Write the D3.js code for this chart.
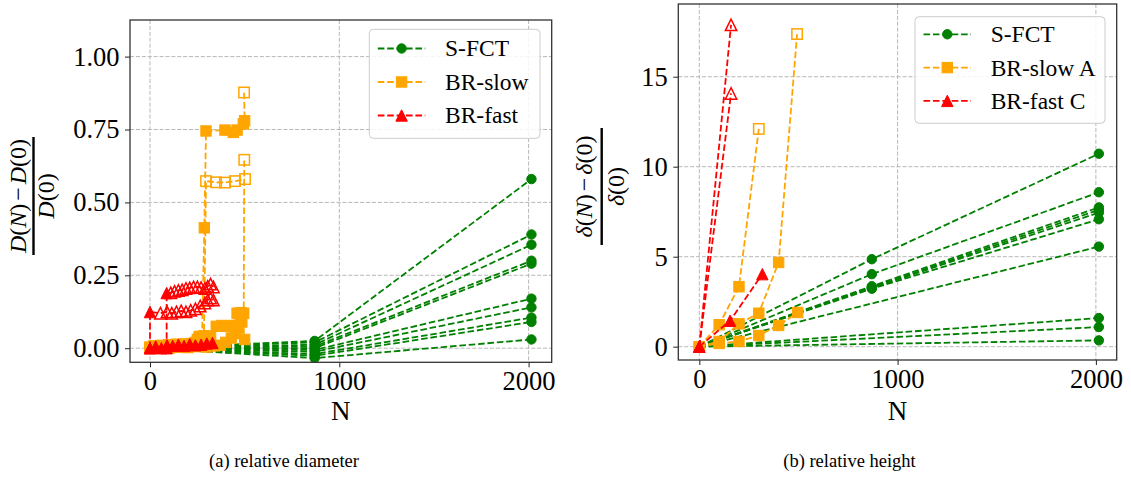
<!DOCTYPE html>
<html><head><meta charset="utf-8">
<script src="https://cdn.jsdelivr.net/npm/d3@7"></script>
<style>html,body{margin:0;padding:0;background:#fff;} svg{display:block;font-family:"Liberation Serif","Times New Roman",serif;}</style>
</head><body>
<svg id="c" width="1131" height="477"></svg>
<script>
// ---------------- data ----------------
const xTicks = [0, 1000, 2000];
const diamYTicks = [0, 0.25, 0.5, 0.75, 1.0];
const heightYTicks = [0, 5, 10, 15];
const legendDiam = ["S-FCT", "BR-slow", "BR-fast"];
const legendHeight = ["S-FCT", "BR-slow A", "BR-fast C"];
const captionDiam = "(a) relative diameter";
const captionHeight = "(b) relative height";

// S-FCT: N values shared by all runs; null = no sample
const sfctN = [0, 870, 2015];
const diamSFCT = [
  [0, 0.025, 0.58], [0, 0.02, 0.39], [0, 0.012, 0.355], [0, 0.006, 0.30], [0, 0.0, 0.29],
  [0, -0.006, 0.17], [0, -0.012, 0.14], [0, -0.02, 0.105], [0, -0.026, 0.09], [0, -0.034, 0.03]
];
const heightSFCT = [
  [0, 4.86, 10.72], [0, 4.03, 8.58], [0, 3.36, 7.74], [0, 3.30, 7.60], [0, 3.26, 7.45],
  [0, 3.22, 7.08], [0, null, 5.56], [0, null, 1.59], [0, null, 1.09], [0, null, 0.35]
];

// BR runs: [N, value]; markers from index openFrom on are hollow
const diamSlowRuns = [
  [[0,0.0],[20,0.008],[40,0.004],[60,0.01],[80,0.006],[100,0.012],[120,0.008],[140,0.014],[160,0.01],[180,0.015],[200,0.012],[220,0.016],[240,0.02],[260,0.035],[275,0.04],[287,0.413],[296,0.745],[396,0.748],[440,0.74],[460,0.748],[493,0.769],[500,0.78],[497,0.877]],
  [[0,0.004],[25,0.0],[50,0.006],[75,0.002],[100,0.008],[125,0.004],[150,0.01],[175,0.006],[200,0.012],[225,0.008],[250,0.03],[270,0.04],[285,0.042],[296,0.573],[349,0.569],[396,0.568],[449,0.573],[502,0.58]],
  [[0,0.0],[30,0.003],[60,0.0],[90,0.006],[120,0.003],[150,0.008],[180,0.004],[210,0.01],[240,0.006],[260,0.04],[290,0.042],[320,0.04],[350,0.075],[380,0.078],[410,0.075],[440,0.078],[460,0.12],[480,0.122],[495,0.12],[498,0.646]],
  [[0,0.0],[50,0.002],[100,0.0],[150,0.004],[200,0.002],[250,0.006],[300,0.004],[340,0.008],[370,0.01],[400,0.02],[430,0.035],[455,0.05],[470,0.07],[485,0.09],[500,0.03]]
];
const diamSlowOpenFrom = [22, 13, 19, 99];

const diamFastRuns = [
  [[0,0.0],[0,0.124],[55,0.12],[90,0.125],[115,0.12],[140,0.125],[165,0.128],[190,0.125],[215,0.13],[240,0.135],[265,0.145],[290,0.155],[305,0.165],[320,0.172],[335,0.165]],
  [[88,0.0],[88,0.189],[110,0.19],[130,0.195],[150,0.198],[170,0.2],[190,0.205],[210,0.207],[230,0.21],[250,0.21],[270,0.208],[290,0.205],[305,0.212],[320,0.22],[335,0.21]],
  [[0,0.0],[30,0.006],[60,0.0],[90,0.01],[120,0.008],[150,0.012],[180,0.008],[210,0.014],[240,0.01],[270,0.012],[300,0.016],[330,0.018]]
];
const diamFastOpenFrom = [2, 2, 99];

const heightSlowRuns = [
  [[0,0],[100,1.22],[200,3.33],[300,12.1]],
  [[0,0],[100,0.29],[200,1.27],[300,1.86],[400,4.68],[493,17.37]],
  [[0,0],[100,0.18],[200,0.29],[300,0.62],[400,1.18],[496,1.9]]
];
const heightSlowOpenFrom = [3, 5, 99];

const heightFastRuns = [
  [[0,0],[155,1.44],[318,4.03]],
  [[0,0],[160,14.07]],
  [[0,0],[160,17.88]]
];
const heightFastOpenFrom = [99, 1, 1];

// ---------------- drawing ----------------
const GREEN = "#008000", ORANGE = "#FFA500", RED = "#FF0000";
const DASH = "6.6,2.8";
const svg = d3.select("#c");
const defs = svg.append("defs");

function marker(sel, shape, color, open) {
  let m;
  if (shape === "o") m = sel.append("circle").attr("r", 4.7);
  else if (shape === "s") m = sel.append("rect").attr("x", -5.2).attr("y", -5.2).attr("width", 10.4).attr("height", 10.4);
  else m = sel.append("path").attr("d", "M0,-5.7L-5.7,5.7L5.7,5.7Z");
  m.attr("fill", open ? "none" : color).attr("stroke", color).attr("stroke-width", open ? 1.5 : 1);
  return m;
}

function panel(cfg) {
  const g = svg.append("g");
  const b = cfg.box;
  const x = d3.scaleLinear().domain(cfg.xlim).range([b.x0, b.x1]);
  const y = d3.scaleLinear().domain(cfg.ylim).range([b.y1, b.y0]);

  defs.append("clipPath").attr("id", "clip" + cfg.id).append("rect")
    .attr("x", b.x0).attr("y", b.y0).attr("width", b.x1 - b.x0).attr("height", b.y1 - b.y0);

  // grid
  const grid = g.append("g").attr("stroke", "#b0b0b0").attr("stroke-width", 0.9).attr("stroke-dasharray", "4.1,1.8");
  grid.selectAll(".gx").data(xTicks).join("line").attr("class", "gx")
    .attr("x1", d => x(d)).attr("x2", d => x(d)).attr("y1", b.y0).attr("y2", b.y1);
  grid.selectAll(".gy").data(cfg.yTicks).join("line").attr("class", "gy")
    .attr("y1", d => y(d)).attr("y2", d => y(d)).attr("x1", b.x0).attr("x2", b.x1);

  const data = g.append("g").attr("clip-path", `url(#clip${cfg.id})`);
  const line = d3.line().x(d => x(d[0])).y(d => y(d[1]));
  function run(pts, color, shape, openFrom) {
    const s = data.append("g");
    s.append("path").attr("d", line(pts)).attr("fill", "none").attr("stroke", color)
      .attr("stroke-width", 1.8).attr("stroke-dasharray", DASH);
    pts.forEach((p, i) => {
      const mg = s.append("g").attr("transform", `translate(${x(p[0])},${y(p[1])})`);
      marker(mg, shape, color, i >= openFrom);
    });
  }
  cfg.sfct.forEach(row => run(sfctN.map((n, i) => [n, row[i]]).filter(d => d[1] !== null), GREEN, "o", 99));
  cfg.slow.forEach((r, i) => run(r, ORANGE, "s", cfg.slowOpen[i]));
  cfg.fast.forEach((r, i) => run(r, RED, "^", cfg.fastOpen[i]));

  // axes
  const xa = g.append("g").attr("transform", `translate(0,${b.y1})`)
    .call(d3.axisBottom(x).tickValues(xTicks).tickSize(5).tickPadding(4).tickFormat(d3.format("d")));
  const ya = g.append("g").attr("transform", `translate(${b.x0},0)`)
    .call(d3.axisLeft(y).tickValues(cfg.yTicks).tickSize(5).tickPadding(5.5).tickFormat(cfg.yFmt));
  [xa, ya].forEach(a => {
    a.select(".domain").remove();
    a.selectAll("line").attr("stroke", "#222").attr("stroke-width", 1);
    a.selectAll("text").attr("fill", "#000").style("font-size", "26.5px")
      .style("font-family", '"Liberation Serif","Times New Roman",serif');
  });

  // spines
  g.append("rect").attr("x", b.x0).attr("y", b.y0).attr("width", b.x1 - b.x0).attr("height", b.y1 - b.y0)
    .attr("fill", "none").attr("stroke", "#333").attr("stroke-width", 1.3);

  // x label
  g.append("text").attr("x", (b.x0 + b.x1) / 2).attr("y", 420).attr("text-anchor", "middle")
    .style("font-size", "27px").text("N");

  // y label as fraction
  const yl = g.append("g").attr("transform", `translate(${cfg.yl.x},${cfg.yl.y}) rotate(-90)`).style("font-size", "24px");
  const sym = cfg.yl.sym;
  const num = yl.append("text").attr("text-anchor", "middle").attr("y", cfg.yl.numY);
  num.append("tspan").style("font-style", "italic").text(sym);
  num.append("tspan").text("(");
  num.append("tspan").style("font-style", "italic").text("N");
  num.append("tspan").text(")");
  num.append("tspan").attr("dx", 3).text("\u2212");
  num.append("tspan").attr("dx", 3).style("font-style", "italic").text(sym);
  num.append("tspan").text("(0)");
  const den = yl.append("text").attr("text-anchor", "middle").attr("y", cfg.yl.denY);
  den.append("tspan").style("font-style", "italic").text(sym);
  den.append("tspan").text("(0)");
  yl.append("line").attr("x1", -cfg.yl.len / 2).attr("x2", cfg.yl.len / 2).attr("y1", 0).attr("y2", 0)
    .attr("stroke", "#000").attr("stroke-width", 2.4);

  // legend
  const L = cfg.legend;
  const lg = g.append("g");
  lg.append("rect").attr("x", L.x).attr("y", L.y).attr("width", L.w).attr("height", L.h).attr("rx", 4)
    .attr("fill", "#fff").attr("fill-opacity", 0.85).attr("stroke", "#cccccc").attr("stroke-width", 1);
  const cols = [GREEN, ORANGE, RED], shapes = ["o", "s", "^"];
  cfg.labels.forEach((lab, i) => {
    const cy = L.y + L.first + i * L.step;
    lg.append("line").attr("x1", L.x + 8.5).attr("x2", L.x + 56).attr("y1", cy).attr("y2", cy)
      .attr("stroke", cols[i]).attr("stroke-width", 1.8).attr("stroke-dasharray", DASH);
    marker(lg.append("g").attr("transform", `translate(${L.x + 32.3},${cy})`), shapes[i], cols[i], false);
    lg.append("text").attr("x", L.x + 75.7).attr("y", cy).attr("dy", "0.34em")
      .style("font-size", "23.5px").text(lab);
  });

  // caption
  svg.append("text").attr("x", cfg.cap.x).attr("y", 466.5).attr("text-anchor", "middle")
    .style("font-size", "18.5px").text(cfg.cap.text);
}

panel({
  id: "a",
  box: {x0: 130, x1: 551.7, y0: 20, y1: 362.3},
  xlim: [-105.6, 2122], ylim: [-0.0483, 1.1255],
  yTicks: diamYTicks, yFmt: d3.format(".2f"),
  sfct: diamSFCT, slow: diamSlowRuns, slowOpen: diamSlowOpenFrom,
  fast: diamFastRuns, fastOpen: diamFastOpenFrom,
  yl: {x: 33.5, y: 196, len: 118, numY: -7.8, denY: 20.5, sym: "D"},
  legend: {x: 369.3, y: 29.3, w: 170.7, h: 109, first: 19.2, step: 33.5},
  labels: legendDiam,
  cap: {x: 284, text: captionDiam}
});

panel({
  id: "b",
  box: {x0: 678.3, x1: 1116.7, y0: 4, y1: 360},
  xlim: [-106, 2105], ylim: [-0.74, 19.04],
  yTicks: heightYTicks, yFmt: d3.format("d"),
  sfct: heightSFCT, slow: heightSlowRuns, slowOpen: heightSlowOpenFrom,
  fast: heightFastRuns, fastOpen: heightFastOpenFrom,
  yl: {x: 601.7, y: 186.5, len: 117, numY: -9.3, denY: 22, sym: "\u03b4"},
  legend: {x: 915, y: 16.7, w: 190, h: 106.6, first: 17.6, step: 33.3},
  labels: legendHeight,
  cap: {x: 849.5, text: captionHeight}
});
</script>
</body></html>
